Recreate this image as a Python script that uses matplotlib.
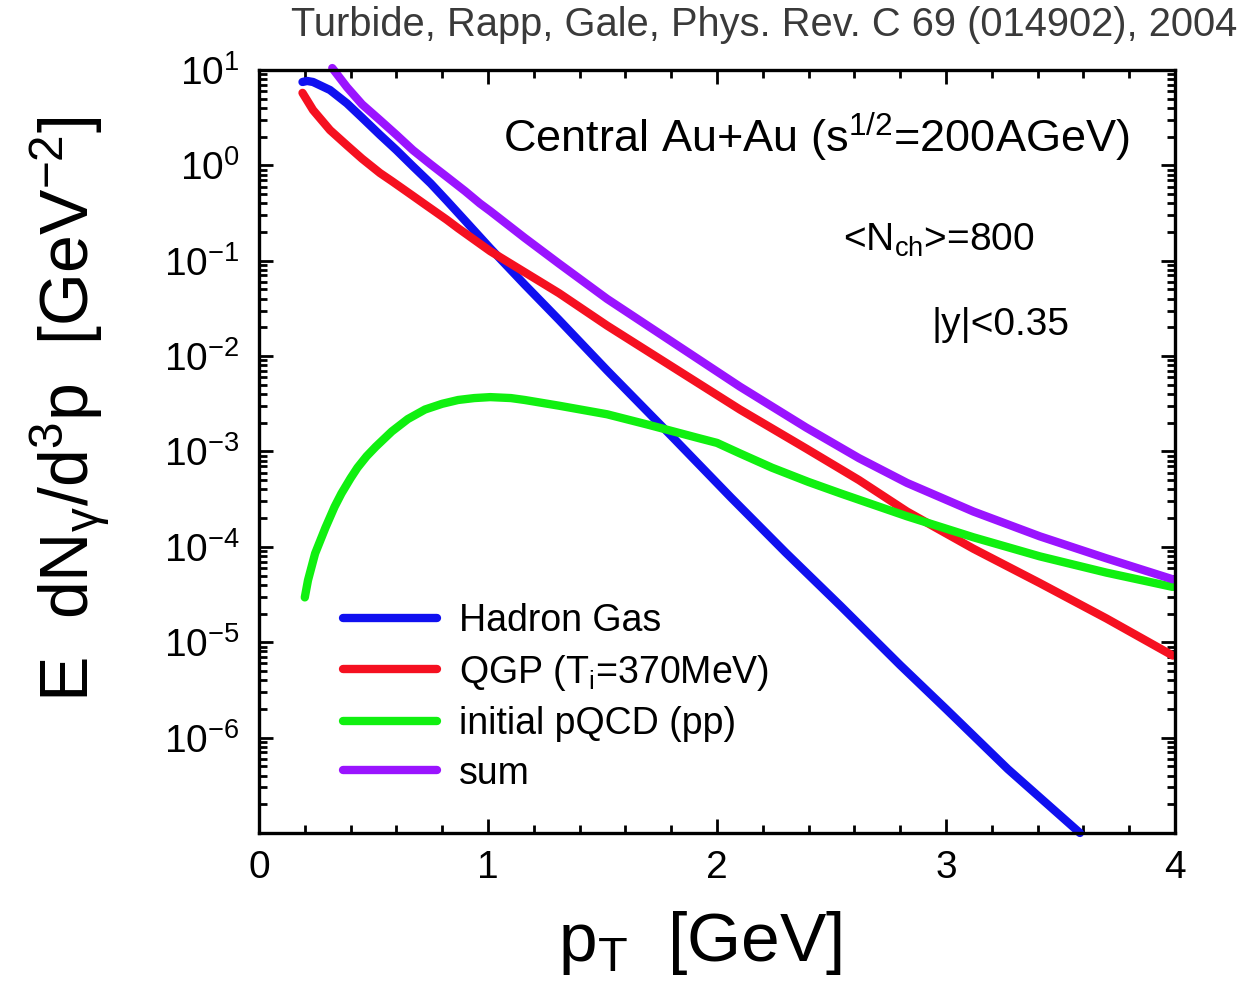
import numpy as np
import matplotlib
matplotlib.use('Agg')
import matplotlib.pyplot as plt
from matplotlib.ticker import LogLocator, FixedLocator, MultipleLocator

plt.rcParams['font.family'] = ['Liberation Sans', 'DejaVu Sans']
plt.rcParams['mathtext.fontset'] = 'custom'
plt.rcParams['mathtext.rm'] = 'Liberation Sans'
plt.rcParams['mathtext.it'] = 'Liberation Sans'
plt.rcParams['mathtext.default'] = 'regular'

# log10 of E dN/d3p

# Hadron gas
pt_hg = [0.19, 0.21, 0.236, 0.31, 0.384, 0.45, 0.528, 0.6, 0.672, 0.75, 0.82, 0.9, 1.01, 1.16, 1.31,
         1.52, 1.81, 2.06, 2.3, 2.54, 2.8, 3.0, 3.27, 3.585]
logy_hg = [0.874, 0.885, 0.874, 0.79, 0.65, 0.50, 0.32, 0.16, -0.01, -0.19, -0.37, -0.58, -0.87, -1.25, -1.62,
           -2.15, -2.86, -3.48, -4.06, -4.62, -5.24, -5.70, -6.33, -7.0]

# QGP
pt_qgp = [0.19, 0.236, 0.31, 0.384, 0.45, 0.528, 0.58, 0.672, 0.725, 0.82, 0.87, 1.01, 1.16, 1.31, 1.52,
          1.81, 2.10, 2.39, 2.62, 2.83, 3.12, 3.41, 3.70, 3.99]
logy_qgp = [0.76, 0.58, 0.37, 0.21, 0.07, -0.08, -0.165, -0.32, -0.41, -0.57, -0.66, -0.90, -1.12, -1.34, -1.68,
            -2.12, -2.56, -2.97, -3.30, -3.63, -4.02, -4.38, -4.75, -5.14]

# initial pQCD
pt_pqcd = [0.2, 0.214, 0.245, 0.29, 0.33, 0.36, 0.40, 0.43, 0.47, 0.51, 0.58, 0.65, 0.725, 0.8, 0.87, 0.94,
           1.01, 1.1, 1.16, 1.31, 1.52, 1.7, 1.81, 1.92, 2.0, 2.1, 2.24, 2.4, 2.54, 2.83, 3.12, 3.41, 3.70, 3.99]
logy_pqcd = [-4.53, -4.35, -4.07, -3.80, -3.58, -3.44, -3.28, -3.17, -3.05, -2.95, -2.79, -2.66, -2.56, -2.50,
             -2.46, -2.44, -2.43, -2.44, -2.46, -2.52, -2.61, -2.72, -2.79, -2.86, -2.91, -3.02, -3.17, -3.32,
             -3.44, -3.68, -3.90, -4.10, -4.27, -4.42]

# sum
pt_sum = [0.32, 0.384, 0.45, 0.528, 0.6, 0.672, 0.75, 0.82, 0.9, 0.965, 1.01, 1.16, 1.31, 1.52, 1.81, 2.10,
          2.39, 2.62, 2.83, 3.12, 3.41, 3.70, 3.99]
logy_sum = [1.02, 0.82, 0.64, 0.475, 0.32, 0.16, 0.01, -0.12, -0.27, -0.40, -0.48, -0.76, -1.03, -1.40, -1.86,
            -2.32, -2.75, -3.07, -3.33, -3.63, -3.89, -4.12, -4.34]

labels = ['Hadron Gas', 'QGP (T$_i$=370MeV)', 'initial pQCD (pp)', 'sum']
colors = ['#1010f0', '#f51020', '#10f010', '#9a14ff']

fig = plt.figure(figsize=(12.41, 9.94), dpi=100)
ax = fig.add_axes([0.2087, 0.162, 0.7381, 0.7676])

for x, ly, lab, c in zip([pt_hg, pt_qgp, pt_pqcd, pt_sum], [logy_hg, logy_qgp, logy_pqcd, logy_sum], labels, colors):
    ax.plot(x, 10.0 ** np.array(ly), color=c, lw=6, label=lab, solid_capstyle='round',
            solid_joinstyle='round', clip_on=False)

ax.set_yscale('log')
ax.set_xlim(0, 4)
ax.set_ylim(1e-7, 10)

ax.xaxis.set_major_locator(MultipleLocator(1))
ax.xaxis.set_minor_locator(MultipleLocator(0.2))
ax.yaxis.set_major_locator(FixedLocator([10.0**k for k in range(-7, 2)]))
ax.yaxis.set_minor_locator(LogLocator(base=10, subs=np.arange(2, 10), numticks=20))
ax.set_yticklabels([''] + ['$10^{%d}$' % k for k in range(-6, 2)])
ax.yaxis.set_minor_formatter(plt.NullFormatter())

ax.tick_params(which='both', direction='in', top=True, right=True, width=2)
ax.tick_params(which='major', length=10, labelsize=28, pad=12)
ax.tick_params(axis='y', which='major', pad=14)
ax.tick_params(which='minor', length=6)
for s in ax.spines.values():
    s.set_linewidth(2.4)

ax.set_xlabel('p$_T$  [GeV]', fontsize=50)
ax.xaxis.set_label_coords(0.481, -0.1)
ax.set_ylabel(r'E  dN$_\gamma$/d$^3$p  [GeV$^{-2}$]', fontsize=49)
ax.yaxis.set_label_coords(-0.161, 0.555)

ax.text(0.951, 0.912, 'Central Au+Au (s$^{1/2}$=200AGeV)', transform=ax.transAxes,
        fontsize=32.5, ha='right', va='center')
ax.text(0.742, 0.777, '<N$_{ch}$>=800', transform=ax.transAxes, fontsize=28, ha='center', va='center')
ax.text(0.81, 0.666, '|y|<0.35', transform=ax.transAxes, fontsize=28, ha='center', va='center')

ax.legend(loc='lower left', bbox_to_anchor=(0.055, 0.01), frameon=False, fontsize=27,
          handlelength=2.5, handletextpad=0.6, labelspacing=0.36)

fig.text(0.997, 0.975, 'Turbide, Rapp, Gale, Phys. Rev. C 69 (014902), 2004', ha='right', va='center',
         fontsize=28.7, color='#3a3a3a')

fig.savefig('out.png', dpi=100)
